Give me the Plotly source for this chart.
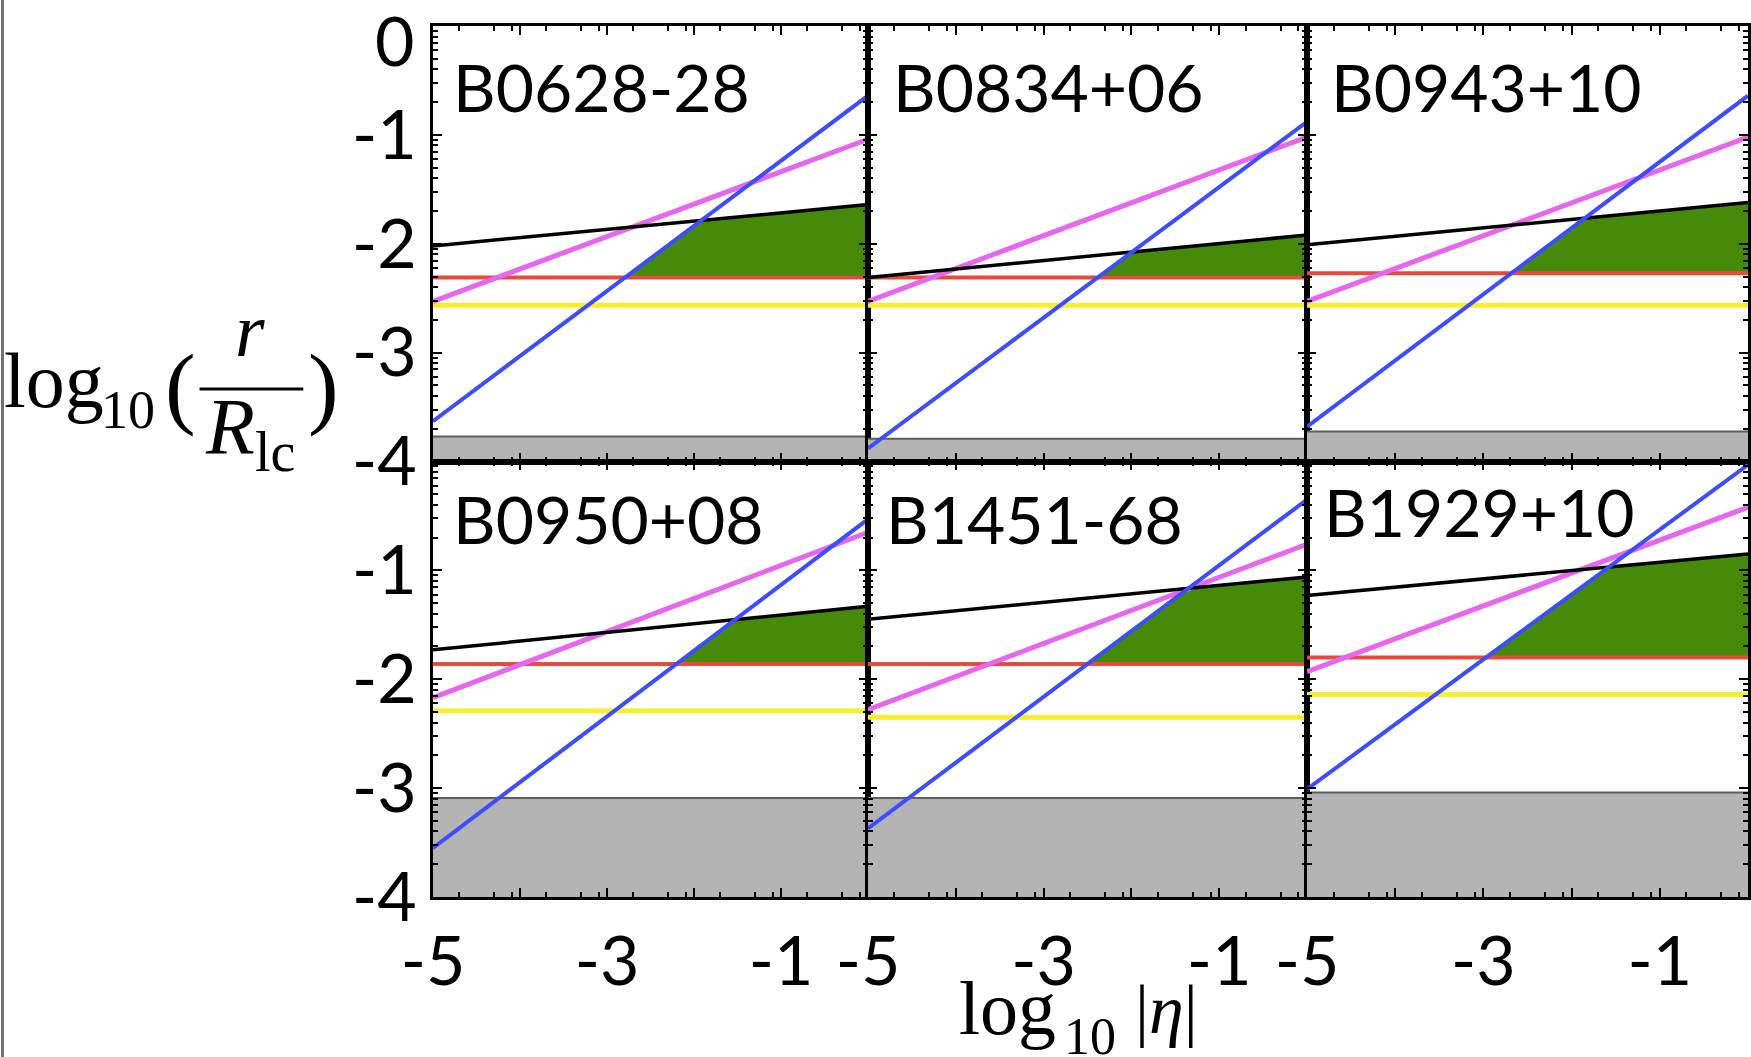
import numpy as np
import plotly.graph_objects as go
from plotly.subplots import make_subplots

# ---- data: values of each curve at log10|eta| = -5 (start) and 0 (end) ----
pulsars = ["B0628-28", "B0834+06", "B0943+10", "B0950+08", "B1451-68", "B1929+10"]
blue_start = [-3.63, -3.88, -3.68, -3.55, -3.37, -3.01]
blue_end = [-0.64, -0.88, -0.64, -0.53, -0.35, -0.03]
magenta_start = [-2.53, -2.53, -2.53, -2.17, -2.28, -1.93]
magenta_end = [-1.04, -1.02, -1.02, -0.65, -0.76, -0.42]
black_start = [-2.02, -2.31, -2.01, -1.73, -1.45, -1.23]
black_end = [-1.64, -1.92, -1.62, -1.33, -1.06, -0.85]
red_level = [-2.31, -2.31, -2.27, -1.86, -1.86, -1.80]
yellow_level = [-2.565, -2.565, -2.565, -2.29, -2.35, -2.14]
gray_level = [-3.77, -3.79, -3.725, -3.09, -3.09, -3.04]

x_range = [-5, 0]
y_range = [-4, 0]
x_tick_labels = ["-5", "", "-3", "", "-1", ""]
y_tick_labels_top = ["", "-1", "-2", "-3", "-4"]
y_tick_labels_bottom = ["", "-1", "-2", "-3", "-4"]

# ---- styling ----
C_BLUE = "#3b4dff"
C_MAG = "#e866ef"
C_BLACK = "#000000"
C_RED = "#e84a3c"
C_YEL = "#f7ef2e"
C_GREEN = "#468a0a"
C_GRAY = "#b3b3b3"
C_GRAY_EDGE = "#5e5e5e"
TICK_FONT = dict(family="Lato", size=68, color="black")
SERIF = "Liberation Serif"

W, H = 1751, 1057
ML, MR, MT, MB = 433, 0, 26, 160
PW, PH = W - ML - MR, H - MT - MB

fig = make_subplots(rows=2, cols=3, horizontal_spacing=0, vertical_spacing=0,
                    column_widths=[436, 440, 442])


def line_at(y0, y1, x):
    return y0 + (y1 - y0) * (x - x_range[0]) / (x_range[1] - x_range[0])


def crossing(a0, a1, b0, b1):
    # x where two straight lines over x_range meet
    da = (a1 - a0) / (x_range[1] - x_range[0])
    db = (b1 - b0) / (x_range[1] - x_range[0])
    return x_range[0] + (b0 - a0) / (da - db)


for i, name in enumerate(pulsars):
    row, col = i // 3 + 1, i % 3 + 1
    xe = np.array(x_range, dtype=float)

    # excluded region at the bottom
    g = gray_level[i]
    fig.add_trace(go.Scatter(x=[-5, 0, 0, -5, -5], y=[-4, -4, g, g, -4], mode="lines",
                             fill="toself", fillcolor=C_GRAY, line=dict(width=0),
                             hoverinfo="skip", showlegend=False), row=row, col=col)
    fig.add_trace(go.Scatter(x=xe, y=[g, g], mode="lines",
                             line=dict(color=C_GRAY_EDGE, width=2),
                             hoverinfo="skip", showlegend=False), row=row, col=col)

    # allowed region: above red, below both black and blue
    r = red_level[i]
    xa = crossing(blue_start[i], blue_end[i], r, r)
    xb = crossing(blue_start[i], blue_end[i], black_start[i], black_end[i])
    xa = min(max(xa, x_range[0]), x_range[1])
    xb = min(max(xb, x_range[0]), x_range[1])
    gx = [xa, xb, 0, 0, xa]
    gy = [r, line_at(black_start[i], black_end[i], xb), black_end[i], r, r]
    fig.add_trace(go.Scatter(x=gx, y=gy, mode="lines", fill="toself",
                             fillcolor=C_GREEN, line=dict(width=0),
                             hoverinfo="skip", showlegend=False), row=row, col=col)

    fig.add_trace(go.Scatter(x=xe, y=[yellow_level[i]] * 2, mode="lines",
                             line=dict(color=C_YEL, width=5),
                             hoverinfo="skip", showlegend=False), row=row, col=col)
    fig.add_trace(go.Scatter(x=xe, y=[r, r], mode="lines",
                             line=dict(color=C_RED, width=4),
                             hoverinfo="skip", showlegend=False), row=row, col=col)
    fig.add_trace(go.Scatter(x=xe, y=[magenta_start[i], magenta_end[i]], mode="lines",
                             line=dict(color=C_MAG, width=5),
                             hoverinfo="skip", showlegend=False), row=row, col=col)
    fig.add_trace(go.Scatter(x=xe, y=[black_start[i], black_end[i]], mode="lines",
                             line=dict(color=C_BLACK, width=3.5),
                             hoverinfo="skip", showlegend=False), row=row, col=col)
    fig.add_trace(go.Scatter(x=xe, y=[blue_start[i], blue_end[i]], mode="lines",
                             line=dict(color=C_BLUE, width=4),
                             hoverinfo="skip", showlegend=False), row=row, col=col)

# ---- axes ----
x_major = [-5, -4, -3, -2, -1, 0]
x_minor = [m + d for m in range(-5, 0) for d in (np.log10(2), np.log10(5), np.log10(8))]
y_major = [0, -1, -2, -3, -4]
y_minor = [m + np.log10(k) for m in range(-4, 0) for k in range(2, 10)]

common = dict(showgrid=False, zeroline=False, showline=True, linecolor="black",
              linewidth=2.5, mirror="ticks", ticks="inside", ticklen=9, tickwidth=1.5,
              tickcolor="black", tickfont=TICK_FONT)

for i in range(6):
    row, col = i // 3 + 1, i % 3 + 1
    fig.update_xaxes(range=x_range, tickmode="array", tickvals=x_major,
                     ticktext=x_tick_labels,
                     showticklabels=(row == 2), ticklabelstandoff=4,
                     minor=dict(tickmode="array", tickvals=x_minor, ticks="inside",
                                ticklen=5, tickwidth=1.5, tickcolor="black"),
                     row=row, col=col, **common)
    ytext = y_tick_labels_top if row == 1 else y_tick_labels_bottom
    fig.update_yaxes(range=y_range, tickmode="array", tickvals=y_major,
                     ticktext=ytext, showticklabels=(col == 1), ticklabelstandoff=0,
                     minor=dict(tickmode="array", tickvals=y_minor, ticks="inside",
                                ticklen=5, tickwidth=1.5, tickcolor="black"),
                     row=row, col=col, **common)


def px(xp):
    return (xp - ML) / PW


def py(yp):
    return (H - MB - yp) / PH


# the top "0" label sits just below the top edge of the page
fig.add_annotation(text="0", xref="paper", yref="paper", x=px(416), y=py(39),
                   xanchor="right", yanchor="middle", showarrow=False, font=TICK_FONT)

# ---- panel names ----
label_offsets = [(18, 61), (23, 61), (22, 61), (18, 57), (16, 57), (15, 50)]
panel_w = [436, 440, 442]
for i, name in enumerate(pulsars):
    col = i % 3
    dx, dy = label_offsets[i]
    ref = "x" if i == 0 else f"x{i + 1}"
    yref = "y" if i == 0 else f"y{i + 1}"
    fig.add_annotation(text=name, xref=f"{ref} domain", yref=f"{yref} domain",
                       x=dx / panel_w[col], y=1 - dy / (PH / 2),
                       xanchor="left", yanchor="middle", showarrow=False,
                       font=dict(family="Lato", size=66, color="black"))


def title_text(text, x, y, size, xanchor="center"):
    fig.add_annotation(text=text, xref="paper", yref="paper", x=px(x), y=py(y),
                       xanchor=xanchor, yanchor="middle", showarrow=False,
                       font=dict(family=SERIF, size=size, color="black"))


# y-axis title: log10( r / R_lc )
title_text("log", 1, 381, 78, xanchor="left")
title_text("10", 127, 410, 54)
title_text("(", 180, 386, 92)
title_text("<i>r</i>", 250, 330, 76)
title_text("<i>R</i><sub>lc</sub>", 250, 433, 80)
title_text(")", 323, 386, 92)
fig.add_shape(type="line", xref="paper", yref="paper", x0=px(199), x1=px(303),
              y0=py(389), y1=py(389), line=dict(color="black", width=3))

# x-axis title: log10 |eta|
title_text("log", 1009, 1008, 76)
title_text("10", 1091, 1036, 52)
title_text("|<i>η</i>|", 1168, 1009, 70)

# frame strip at the left edge of the page
fig.add_shape(type="rect", xref="paper", yref="paper", x0=px(0), x1=px(3),
              y0=py(H), y1=py(0), line=dict(width=0), fillcolor="#707070", layer="above")

fig.update_layout(width=W, height=H, autosize=False,
                  margin=dict(l=ML, r=MR, t=MT, b=MB),
                  paper_bgcolor="white", plot_bgcolor="white", showlegend=False)

fig.write_html("out.html")
